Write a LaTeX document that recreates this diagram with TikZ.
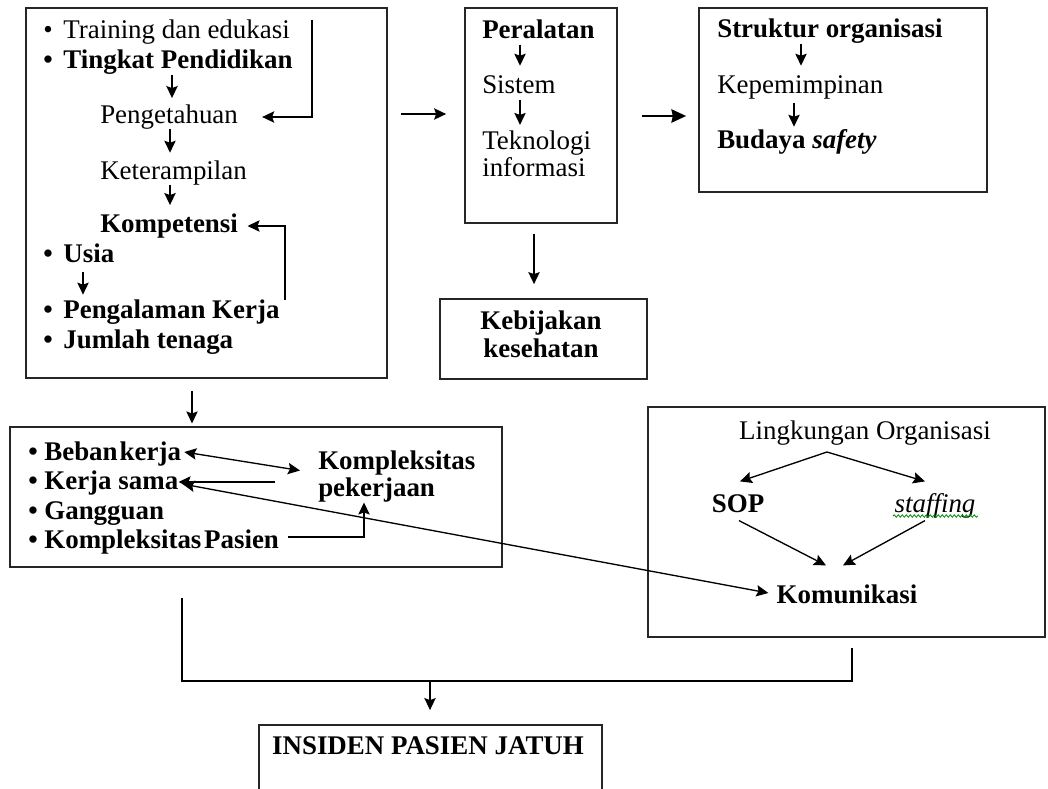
\documentclass[tikz,border=0pt]{standalone}
\usepackage{fontspec}
\setmainfont{Liberation Serif}
\usetikzlibrary{arrows.meta,fit,decorations.pathmorphing}
\begin{document}
\begin{tikzpicture}[x=0.75pt,y=-0.75pt,
  box/.style={draw=black!85, line width=1.3pt, inner sep=0pt},
  txt/.style={inner sep=0pt, anchor=west, yshift=-2.25pt, font=\fontsize{20.2}{21}\selectfont, text height=13pt, text depth=4pt},
  btxt/.style={txt, font=\fontsize{20.2}{21}\selectfont\bfseries},
  mtxt/.style={inner sep=0pt, align=left, font=\fontsize{20.2}{20.25}\selectfont},
  tip/.tip={Stealth[length=9pt,width=8.5pt,inset=1.5pt]},
  arr/.style={line width=1pt, -tip},
  darr/.style={line width=1pt, tip-tip},
  plain/.style={line width=1pt},
]
\useasboundingbox (0,0) rectangle (1048,788);

% ---------- Box 1 ----------
\node[box, fit={(26,8) (387,378)}] (b1) {};
\node[txt] (t1) at (43,30) {•\hspace{8pt}Training dan edukasi};
\node[btxt] (t2) at (43,60) {•\hspace{8pt}Tingkat Pendidikan};
\node[txt] (t3) at (100,114) {Pengetahuan};
\node[txt] (t4) at (100,170) {Keterampilan};
\node[btxt] (t5) at (100,223) {Kompetensi};
\node[btxt] (t6) at (43,253) {•\hspace{8pt}Usia};
\node[btxt] (t7) at (43,309) {•\hspace{8pt}Pengalaman Kerja};
\node[btxt] (t8) at (43,339) {•\hspace{8pt}Jumlah tenaga};

\draw[arr, shorten <=0.5pt, shorten >=5.5pt] (t2.south -| 172,0) -- (t3.north -| 172,0);
\draw[arr, shorten >=6.5pt] (t3.south -| 170,0) -- (t4.north -| 170,0);
\draw[arr, shorten >=7pt] (t4.south -| 170,0) -- (t5.north -| 170,0);
\coordinate (c1) at (312,20);
\draw[arr, shorten >=18pt] (c1) |- (t3.east);
\draw[arr, shorten >=7pt] (t7.north -| 285,0) |- (t5.east);
\draw[arr, shorten <=3.5pt, shorten >=4.3pt] (t6.south -| 83,0) -- (t7.north -| 83,0);

% ---------- Box 2 ----------
\node[box, fit={(465,8) (617,223)}] (b2) {};
\node[btxt] (p1) at (482,30) {Peralatan};
\node[txt] (p2) at (482,85) {Sistem};
\node[mtxt, anchor=west] (p3) at (482,153.5) {Teknologi\\informasi};
\draw[arr, shorten >=8pt] (p1.south -| 520,0) -- (p2.north -| 520,0);
\draw[arr, shorten >=4pt] (p2.south -| 520,0) -- (p3.north -| 520,0);

\draw[arr, shorten <=10pt, shorten >=13.5pt] (b1.east |- 0,114) -- (b2.west |- 0,114);

% ---------- Box 3 ----------
\node[box, fit={(699,8) (987,192)}] (b3) {};
\node[btxt] (s1) at (717,29) {Struktur organisasi};
\node[txt] (s2) at (717,85) {Kepemimpinan};
\node[btxt] (s3) at (717,140) {Budaya \textit{safety}};
\draw[arr, shorten >=8pt] (s1.south -| 801,0) -- (s2.north -| 801,0);
\draw[arr, shorten <=2.8pt, shorten >=3.5pt] (s2.south -| 794,0) -- (s3.north -| 794,0);

\draw[line width=1.8pt, -{Stealth[length=11pt,width=10pt,inset=1pt]}, shorten <=18pt, shorten >=9pt] (b2.east |- 0,116) -- (b3.west |- 0,116);

% ---------- Kebijakan ----------
\node[box, fit={(440,299) (647,379)}] (kb) {};
\node[mtxt, align=center, font=\fontsize{20.2}{21}\selectfont\bfseries] (kbt) at (541,334) {Kebijakan\\kesehatan};
\draw[arr, shorten <=7.5pt, shorten >=10.5pt] (b2.south -| 534,0) -- (kb.north -| 534,0);

% ---------- Box 4 ----------
\node[box, fit={(10,427) (502,567)}] (b4) {};
\draw[arr, shorten <=9pt, shorten >=2pt] (b1.south -| 192,0) -- (b4.north -| 192,0);
\node[btxt] (q1) at (28,451) {•\hspace{5pt}Beban\hspace{1.5pt}kerja};
\node[btxt] (q2) at (28,480) {•\hspace{5pt}Kerja sama};
\node[btxt] (q3) at (28,510) {•\hspace{5pt}Gangguan};
\node[btxt] (q4) at (28,539) {•\hspace{5pt}Kompleksitas\hspace{2pt}Pasien};
\node[mtxt, anchor=west, font=\fontsize{20.2}{20.25}\selectfont\bfseries] (q5) at (318,476.5) {Kompleksitas\\pekerjaan};

\draw[darr] ([shift={(3,-2)}]q1.east) -- ([shift={(-18,-6)}]q5.west);
\coordinate (k2) at (275,482);
\draw[arr] (k2) -- (q2.east |- k2);
\coordinate (k4) at (288,537);
\draw[arr] (k4) -| (q5.south -| 364,0);

% ---------- Box 5 ----------
\node[box, fit={(648,407) (1045,637)}] (b5) {};
\node[txt, anchor=center] (l1) at (865,430) {Lingkungan Organisasi};
\node[btxt, anchor=center] (l2) at (738,503) {SOP};
\node[txt, anchor=center, font=\fontsize{20.2}{21}\selectfont\itshape] (l3) at (935,503) {staffing};
\node[btxt, anchor=center] (l4) at (847,594) {Komunikasi};
\draw[green!55!black, line width=0.6pt, decorate, decoration={snake, amplitude=0.9pt, segment length=3pt}] (893,516) -- (978,516);

\coordinate (lo) at (827,452);
\draw[arr] (lo) -- ([shift={(2,-13)}]l2.north);
\draw[arr] (lo) -- ([shift={(-10,-13)}]l3.north);
\draw[arr] ([shift={(1,3)}]l2.south) -- ([shift={(-21,-20)}]l4.north);
\draw[arr] ([shift={(-10,3)}]l3.south) -- ([shift={(-4,-20)}]l4.north);

\draw[darr] ([shift={(4,1)}]q2.east) -- ([shift={(-8,-4)}]l4.west);

% ---------- Bottom ----------
\coordinate (jl) at (182,598);
\coordinate (hl) at (182,681);
\coordinate (hr) at (852,681);
\coordinate (jr) at (852,648);
\draw[plain] (jl) -- (hl) -- (hr) -- (jr);
\coordinate (ha) at (430,681);
\node[inner sep=0pt, fit={(259,725) (602,790)}] (ins) {};
\draw[box] (ins.south west) -- (ins.north west) -- (ins.north east) -- (ins.south east);
\node[btxt, anchor=center] (inst) at (428,745) {INSIDEN PASIEN JATUH};
\draw[arr, shorten >=11pt] (ha) -- (ins.north -| ha);
\end{tikzpicture}
\end{document}
